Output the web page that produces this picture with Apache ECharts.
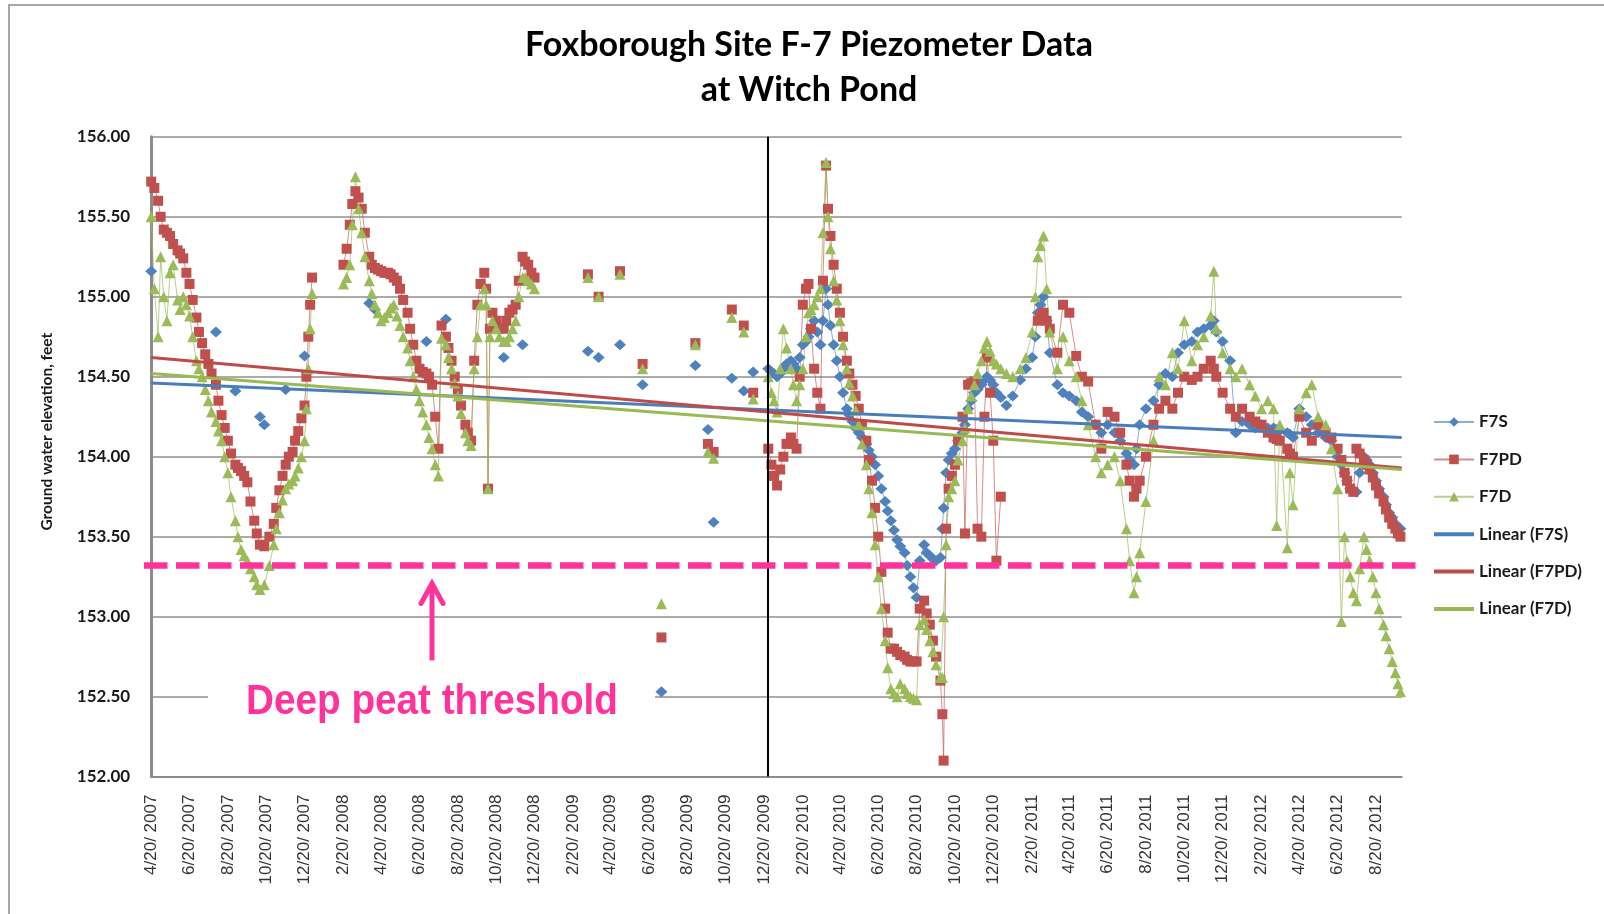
<!DOCTYPE html>
<html><head><meta charset="utf-8">
<script src="https://cdn.jsdelivr.net/npm/echarts@6/dist/echarts.min.js"></script>
<style>html,body{margin:0;padding:0;background:#fff}#c{width:1604px;height:914px}</style>
</head><body><div id="c"></div>
<script>
// ---------- data ----------
const dates = [
'2007-04-20','2007-04-25','2007-05-01','2007-05-05','2007-05-10','2007-05-15','2007-05-20','2007-05-25','2007-06-01','2007-06-05',
'2007-06-10','2007-06-15','2007-06-20','2007-06-25','2007-07-01','2007-07-05','2007-07-10','2007-07-15','2007-07-20','2007-07-25',
'2007-08-01','2007-08-05','2007-08-10','2007-08-15','2007-08-20','2007-08-25','2007-09-01','2007-09-05','2007-09-10','2007-09-15',
'2007-09-20','2007-09-25','2007-10-01','2007-10-05','2007-10-10','2007-10-17','2007-10-25','2007-11-01','2007-11-05','2007-11-10',
'2007-11-15','2007-11-20','2007-11-25','2007-12-01','2007-12-05','2007-12-10','2007-12-15','2007-12-20','2007-12-23','2007-12-26',
'2007-12-29','2008-01-01','2008-01-20','2008-02-20','2008-02-25','2008-03-01','2008-03-05','2008-03-10','2008-03-15','2008-03-20',
'2008-03-25','2008-04-01','2008-04-05','2008-04-10','2008-04-15','2008-04-20','2008-04-25','2008-05-01','2008-05-05','2008-05-10',
'2008-05-15','2008-05-20','2008-05-25','2008-06-01','2008-06-05','2008-06-10','2008-06-15','2008-06-20','2008-06-25','2008-07-01',
'2008-07-05','2008-07-10','2008-07-15','2008-07-20','2008-07-25','2008-08-01','2008-08-05','2008-08-10','2008-08-15','2008-08-20',
'2008-08-25','2008-09-01','2008-09-05','2008-09-10','2008-09-15','2008-09-20','2008-09-25','2008-10-01','2008-10-04','2008-10-07',
'2008-10-10','2008-10-14','2008-10-20','2008-10-25','2008-11-01','2008-11-05','2008-11-10','2008-11-15','2008-11-20','2008-11-25',
'2008-12-01','2008-12-05','2008-12-10','2008-12-15','2008-12-20','2009-01-20','2009-03-15','2009-03-23','2009-04-01','2009-04-15',
'2009-05-05','2009-05-20','2009-06-10','2009-06-25','2009-07-10','2009-08-01','2009-09-02','2009-09-10','2009-09-22','2009-09-26',
'2009-10-01','2009-10-15','2009-10-30','2009-11-08','2009-11-18','2009-11-25','2009-12-03','2009-12-15','2009-12-27','2010-01-01',
'2010-01-05','2010-01-10','2010-01-15','2010-01-20','2010-01-25','2010-02-01','2010-02-05','2010-02-10','2010-02-15','2010-02-20',
'2010-02-25','2010-03-01','2010-03-05','2010-03-10','2010-03-15','2010-03-20','2010-03-24','2010-03-29','2010-04-01','2010-04-05',
'2010-04-10','2010-04-15','2010-04-20','2010-04-25','2010-05-01','2010-05-05','2010-05-10','2010-05-15','2010-05-20','2010-05-25',
'2010-06-01','2010-06-05','2010-06-10','2010-06-15','2010-06-20','2010-06-25','2010-07-01','2010-07-05','2010-07-10','2010-07-15',
'2010-07-20','2010-07-25','2010-08-01','2010-08-05','2010-08-10','2010-08-15','2010-08-20','2010-08-25','2010-09-01','2010-09-05',
'2010-09-10','2010-09-15','2010-09-20','2010-09-27','2010-09-30','2010-10-02','2010-10-06','2010-10-10','2010-10-15','2010-10-20',
'2010-10-25','2010-11-01','2010-11-05','2010-11-10','2010-11-15','2010-11-20','2010-11-25','2010-12-01','2010-12-06','2010-12-10',
'2010-12-15','2010-12-20','2010-12-25','2011-01-01','2011-01-10','2011-01-20','2011-02-01','2011-02-10','2011-02-20','2011-02-25',
'2011-03-01','2011-03-05','2011-03-10','2011-03-15','2011-03-20','2011-04-01','2011-04-10','2011-04-20','2011-05-01','2011-05-10',
'2011-05-20','2011-06-01','2011-06-10','2011-06-20','2011-07-01','2011-07-10','2011-07-20','2011-07-25','2011-08-01','2011-08-05',
'2011-08-10','2011-08-20','2011-09-01','2011-09-10','2011-09-20','2011-10-01','2011-10-10','2011-10-20','2011-11-01','2011-11-10',
'2011-11-20','2011-12-01','2011-12-06','2011-12-10','2011-12-20','2012-01-01','2012-01-10','2012-01-20','2012-02-01','2012-02-10',
'2012-02-20','2012-03-01','2012-03-10','2012-03-15','2012-03-20','2012-04-01','2012-04-05','2012-04-10','2012-04-20','2012-05-01',
'2012-05-10','2012-05-20','2012-06-01','2012-06-10','2012-06-20','2012-06-26','2012-07-01','2012-07-05','2012-07-10','2012-07-15',
'2012-07-20','2012-07-25','2012-08-01','2012-08-05','2012-08-10','2012-08-15','2012-08-20','2012-08-25','2012-09-01','2012-09-05',
'2012-09-10','2012-09-15','2012-09-20','2012-09-24','2012-09-28'
];
const n = null;
const f7s = [
155.16,n,n,n,n,n,n,n,n,n,
n,n,n,n,n,n,n,n,n,n,
154.78,n,n,n,n,n,154.41,n,n,n,
n,n,n,n,154.25,154.20,n,n,n,n,
n,154.42,n,n,n,n,n,154.63,n,n,
n,n,n,n,n,n,n,n,n,n,
n,154.96,n,154.92,n,n,n,n,n,n,
n,n,n,n,n,n,n,n,n,154.72,
n,n,n,n,n,154.86,n,n,n,n,
n,n,n,n,n,n,n,n,n,n,
n,n,n,n,154.62,n,n,n,n,n,
154.70,n,n,n,n,n,154.66,n,154.62,n,
154.70,n,154.45,n,152.53,n,154.57,n,154.17,n,
153.59,n,154.49,n,154.41,n,154.53,n,154.55,154.53,
154.52,154.50,154.52,154.55,154.58,154.60,154.58,154.55,154.62,154.70,
154.72,154.75,154.80,154.85,154.78,154.70,154.85,155.05,154.95,154.82,
154.70,154.60,154.50,154.40,154.30,154.26,154.22,154.18,154.15,154.12,
154.08,154.04,154.00,153.95,153.88,153.80,153.72,153.66,153.60,153.54,
153.48,153.44,153.40,153.32,153.25,153.18,153.12,153.35,153.45,153.40,
153.38,153.36,153.35,153.37,153.55,153.68,153.90,153.98,154.02,154.05,
154.10,154.15,154.20,154.30,154.35,154.40,154.42,154.45,154.48,154.50,
154.48,154.45,154.40,154.37,154.32,154.38,154.48,154.55,154.62,154.75,
154.90,154.95,155.00,154.85,154.65,154.45,154.40,154.38,154.35,154.28,
154.25,154.20,154.15,154.20,154.15,154.10,154.02,153.98,153.95,154.05,
154.20,154.30,154.35,154.45,154.52,154.50,154.65,154.70,154.72,154.78,
154.80,154.82,154.85,154.78,154.72,154.60,154.15,154.22,154.20,154.18,
154.20,154.18,154.18,154.17,154.17,154.15,154.14,154.12,154.30,154.25,
154.20,154.15,154.12,154.10,154.00,153.95,153.90,153.85,153.80,153.79,
153.78,153.90,154.00,153.98,153.95,153.90,153.85,153.80,153.75,153.70,
153.65,153.62,153.58,153.56,153.55
];
const f7pd = [
155.72,155.68,155.60,155.50,155.42,155.40,155.38,155.33,155.29,155.27,
155.24,155.15,155.08,154.98,154.87,154.78,154.71,154.64,154.58,154.52,
154.45,154.35,154.26,154.18,154.10,154.02,153.95,153.93,153.91,153.88,
153.84,153.72,153.60,153.52,153.45,153.44,153.50,153.58,153.68,153.79,
153.88,153.95,154.00,154.03,154.10,154.16,154.24,154.32,154.50,154.75,
154.95,155.12,n,155.20,155.30,155.45,155.58,155.66,155.62,155.55,
155.40,155.25,155.20,155.18,155.17,155.16,155.15,155.15,155.14,155.12,
155.10,155.05,154.98,154.90,154.80,154.70,154.60,154.55,154.53,154.52,
154.50,154.45,154.25,154.05,154.82,154.75,154.68,154.60,154.50,154.42,
154.32,154.20,154.15,154.10,154.60,154.95,155.08,155.15,155.05,153.80,
154.80,154.90,154.85,154.80,154.80,154.85,154.90,154.92,154.95,155.10,
155.25,155.22,155.20,155.15,155.12,n,155.14,n,155.00,n,
155.16,n,154.58,n,152.87,n,154.71,n,154.08,n,
154.03,n,154.92,n,154.82,n,154.40,n,154.05,153.95,
153.88,153.82,153.92,154.00,154.08,154.12,154.08,154.05,154.50,154.95,
155.05,155.08,154.80,154.55,154.40,154.30,155.10,155.82,155.55,155.38,
155.20,155.05,154.90,154.75,154.60,154.52,154.45,154.38,154.30,154.20,
154.10,153.98,153.85,153.68,153.50,153.28,153.05,152.90,152.80,152.80,
152.78,152.76,152.75,152.73,152.72,152.72,152.72,153.05,153.10,153.02,
152.95,152.85,152.75,152.60,152.39,152.10,153.55,153.80,153.88,153.95,
154.10,154.25,153.52,154.45,154.46,154.47,153.55,153.50,154.25,154.62,
154.40,154.10,153.35,153.75,n,n,n,n,n,n,
154.85,154.88,154.90,154.85,154.80,154.65,154.95,154.90,154.63,154.50,
154.47,154.20,154.05,154.28,154.25,154.15,153.95,153.85,153.75,153.80,
153.85,154.00,154.20,154.30,154.35,154.30,154.40,154.50,154.48,154.50,
154.55,154.60,154.55,154.50,154.40,154.30,154.25,154.30,154.25,154.22,
154.20,154.15,154.12,154.11,154.10,154.05,154.02,154.00,154.25,154.15,
154.10,154.20,154.15,154.12,154.05,153.98,153.90,153.85,153.80,153.78,
154.05,154.02,153.98,153.95,153.92,153.87,153.82,153.77,153.72,153.67,
153.62,153.58,153.55,153.52,153.50
];
const f7d = [
155.50,155.05,154.75,155.25,155.00,154.85,155.15,155.20,154.98,154.92,
155.00,154.95,154.88,154.75,154.60,154.55,154.50,154.42,154.35,154.28,
154.22,154.16,154.10,154.00,153.90,153.75,153.60,153.50,153.42,153.38,
153.35,153.30,153.25,153.20,153.17,153.20,153.32,153.45,153.55,153.65,
153.73,153.80,153.83,153.85,153.88,153.93,154.00,154.10,154.30,154.55,
154.80,155.02,n,155.08,155.12,155.20,155.45,155.75,155.55,155.40,
155.25,155.10,155.02,154.95,154.90,154.85,154.87,154.90,154.93,154.95,
154.88,154.82,154.75,154.68,154.60,154.50,154.42,154.35,154.28,154.20,
154.12,154.05,153.95,153.88,154.74,154.70,154.62,154.55,154.46,154.38,
154.27,154.15,154.10,154.07,154.55,154.75,154.95,155.05,154.95,153.80,
154.75,154.85,154.80,154.75,154.72,154.72,154.75,154.80,154.85,155.00,
155.12,155.12,155.10,155.08,155.05,n,155.12,n,155.00,n,
155.14,n,154.55,n,153.08,n,154.70,n,154.03,n,
153.99,n,154.87,n,154.78,n,154.36,n,154.50,154.40,
154.35,154.28,154.55,154.80,154.68,154.55,154.45,154.35,154.45,154.55,
154.75,154.90,154.92,154.95,155.00,155.05,155.40,155.84,155.50,155.30,
155.10,154.98,154.85,154.70,154.55,154.46,154.38,154.29,154.20,154.08,
153.95,153.80,153.65,153.45,153.25,153.05,152.85,152.68,152.55,152.52,
152.50,152.58,152.55,152.52,152.50,152.49,152.48,152.95,152.98,152.92,
152.85,152.78,152.70,152.62,152.62,153.00,153.45,153.75,153.80,153.85,
153.98,154.10,154.18,154.30,154.38,154.45,154.52,154.60,154.68,154.72,
154.66,154.60,154.58,154.55,154.52,154.50,154.55,154.62,154.78,155.00,
155.25,155.32,155.38,155.05,154.78,154.55,154.75,154.60,154.50,154.35,
154.20,154.00,153.90,153.95,154.00,153.85,153.55,153.35,153.15,153.25,
153.40,153.72,154.10,154.50,154.45,154.65,154.55,154.85,154.60,154.70,
154.75,154.88,155.16,154.80,154.65,154.55,154.50,154.55,154.45,154.38,
154.30,154.35,154.30,153.57,154.20,153.43,153.90,153.70,154.30,154.40,
154.45,154.25,154.20,154.05,153.80,152.97,153.50,153.35,153.25,153.15,
153.10,153.30,153.50,153.42,153.35,153.25,153.15,153.05,152.95,152.88,
152.80,152.72,152.65,152.58,152.53
];
// linear trend lines (end points read at the axis ends)
const trendDates = ['2007-04-20', '2012-09-30'];
const trendF7S = [154.46, 154.12];
const trendF7PD = [154.62, 153.93];
const trendF7D = [154.52, 153.92];
// annotations
const thresholdValue = 153.32;
const dividerDate = '2009-12-26';
// axis ticks
const xTickDates = [
'2007-04-20','2007-06-20','2007-08-20','2007-10-20','2007-12-20',
'2008-02-20','2008-04-20','2008-06-20','2008-08-20','2008-10-20','2008-12-20',
'2009-02-20','2009-04-20','2009-06-20','2009-08-20','2009-10-20','2009-12-20',
'2010-02-20','2010-04-20','2010-06-20','2010-08-20','2010-10-20','2010-12-20',
'2011-02-20','2011-04-20','2011-06-20','2011-08-20','2011-10-20','2011-12-20',
'2012-02-20','2012-04-20','2012-06-20','2012-08-20'
];
const yMin = 152, yMax = 156, yStep = 0.5;
const seriesNames = ['F7S', 'F7PD', 'F7D', 'Linear (F7S)', 'Linear (F7PD)', 'Linear (F7D)'];

// ---------- chart ----------
const ts = s => { const p = s.split('-').map(Number); return new Date(p[0], p[1] - 1, p[2]).getTime(); };
const CAL = 'Lato, "Open Sans", sans-serif';
const ARIAL = '"Liberation Sans", Arial, sans-serif';
const PINK = '#FF3399';

function pointSeries(name, arr, symbol, size, color, lineColor) {
  return {
    name, type: 'line', data: dates.map((d, i) => [ts(d), arr[i]]),
    symbol, symbolSize: size, showAllSymbol: true, connectNulls: false,
    itemStyle: { color }, lineStyle: { color: lineColor, width: 1 },
    emphasis: { disabled: true }, animation: false, z: 2
  };
}
function trendSeries(name, vals, color) {
  return {
    name, type: 'line', data: trendDates.map((d, i) => [ts(d), vals[i]]),
    symbol: 'none', itemStyle: { color }, lineStyle: { color, width: 3 },
    emphasis: { disabled: true }, animation: false, z: 4
  };
}

const chart = echarts.init(document.getElementById('c'), null, { renderer: 'canvas' });
const series = [
  pointSeries(seriesNames[0], f7s, 'diamond', [12, 11], '#4F81BD', 'rgba(79,129,189,0.65)'),
  pointSeries(seriesNames[1], f7pd, 'rect', 10, '#C0504D', 'rgba(192,80,77,0.65)'),
  pointSeries(seriesNames[2], f7d, 'triangle', [11, 11], '#9BBB59', 'rgba(155,187,89,0.7)'),
  trendSeries(seriesNames[3], trendF7S, '#4A7EBB'),
  trendSeries(seriesNames[4], trendF7PD, '#BE4B48'),
  trendSeries(seriesNames[5], trendF7D, '#98B954')
];
series[5].markLine = {
  silent: true, symbol: ['none', 'none'], label: { show: false }, animation: false,
  lineStyle: { color: '#000', width: 2, type: 'solid' },
  data: [{ xAxis: ts(dividerDate) }]
};
const barIcon = 'path://M0,0L40,0L40,4L0,4Z';

chart.setOption({
  animation: false,
  backgroundColor: '#fff',
  textStyle: { fontFamily: CAL },
  grid: { left: 151.2, right: 202.3, top: 136.8, bottom: 137.4, containLabel: false },
  legend: {
    orient: 'vertical', left: 1433, top: 413.5, padding: 0, itemWidth: 40, itemHeight: 12, itemGap: 20.4,
    selectedMode: false, symbolKeepAspect: true,
    data: [
      { name: seriesNames[0] }, { name: seriesNames[1] }, { name: seriesNames[2] },
      { name: seriesNames[3], icon: barIcon }, { name: seriesNames[4], icon: barIcon }, { name: seriesNames[5], icon: barIcon }
    ],
    textStyle: { fontFamily: CAL, fontWeight: 'bold', fontSize: 17, color: '#1a1a1a', lineHeight: 12 }
  },
  xAxis: {
    type: 'value', min: ts(trendDates[0]), max: ts(trendDates[1]),
    axisLine: { lineStyle: { color: '#8c8c8c', width: 2 } },
    axisTick: { show: false },
    splitLine: { show: false },
    axisLabel: {
      customValues: xTickDates.map(ts), rotate: 90, margin: 18, hideOverlap: false,
      fontFamily: ARIAL, fontSize: 17, color: '#333',
      formatter: v => { const d = new Date(v); return (d.getMonth() + 1) + '/' + d.getDate() + '/ ' + d.getFullYear(); }
    }
  },
  yAxis: {
    type: 'value', min: yMin, max: yMax, interval: yStep,
    name: 'Ground water elevation, feet', nameLocation: 'middle', nameGap: 96,
    nameTextStyle: { fontFamily: CAL, fontWeight: 'bold', fontSize: 15.5, color: '#1a1a1a', padding: [0, 0, 0, 50] },
    axisLine: { show: true, lineStyle: { color: '#8c8c8c', width: 3 } },
    axisTick: { show: false },
    splitLine: { lineStyle: { color: '#ababab', width: 2 } },
    axisLabel: { fontFamily: CAL, fontWeight: 'bold', fontSize: 17, color: '#1a1a1a', margin: 21,
      formatter: v => v.toFixed(2) }
  },
  series
});

const yThr = chart.convertToPixel({ yAxisIndex: 0 }, thresholdValue);
const ax = 432;
chart.setOption({
  graphic: [
    { type: 'rect', silent: true, z: 0, shape: { x: 9, y: 5, width: 1700, height: 1000 },
      style: { fill: 'none', stroke: '#8c8c8c', lineWidth: 1.5 } },
    { type: 'text', silent: true, x: 809, y: 45.5, z: 10,
      style: { text: 'Foxborough Site F-7 Piezometer Data', font: 'bold 34px ' + CAL, fill: '#000', align: 'center', verticalAlign: 'middle' } },
    { type: 'text', silent: true, x: 809, y: 90.5, z: 10,
      style: { text: 'at Witch Pond', font: 'bold 34px ' + CAL, fill: '#000', align: 'center', verticalAlign: 'middle' } },
    { type: 'rect', silent: true, z: 1, shape: { x: 208, y: yThr + 108, width: 447, height: 64 },
      style: { fill: '#fff' } },
    { type: 'text', silent: true, x: ax, y: yThr + 137, z: 100, scaleX: 0.9,
      style: { text: 'Deep peat threshold', font: 'bold 43px ' + ARIAL, fill: PINK, align: 'center', verticalAlign: 'middle' } },
    { type: 'line', silent: true, z: 100, shape: { x1: 144, y1: yThr, x2: 1418, y2: yThr },
      style: { stroke: PINK, lineWidth: 6.5, lineDash: [23.5, 8.5] } },
    { type: 'line', silent: true, z: 100, shape: { x1: ax, y1: yThr + 19, x2: ax, y2: yThr + 95 },
      style: { stroke: PINK, lineWidth: 5 } },
    { type: 'polyline', silent: true, z: 100, shape: { points: [[ax - 11, yThr + 38], [ax, yThr + 18], [ax + 11, yThr + 38]] },
      style: { stroke: PINK, lineWidth: 5, fill: 'none', lineJoin: 'miter', lineCap: 'round' } }
  ]
});
</script>
</body></html>
